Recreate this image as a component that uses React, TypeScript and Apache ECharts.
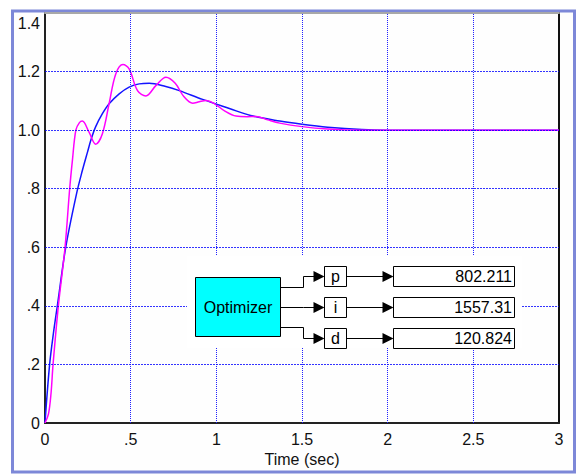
import React, { useEffect, useRef } from "react";
import * as echarts from "echarts";

// ---- data ----
const xTickLabels = ["0", ".5", "1", "1.5", "2", "2.5", "3"];
const yTickLabels = ["0", ".2", ".4", ".6", ".8", "1.0", "1.2", "1.4"];
const xGridValues = [0.5, 1, 1.5, 2, 2.5];
const yGridValues = [0.2, 0.4, 0.6, 0.8, 1.0, 1.2];

const blueTime = [0, 0.027, 0.05, 0.072, 0.121, 0.183, 0.218, 0.248, 0.271, 0.296, 0.335, 0.374, 0.433, 0.491, 0.55, 0.608, 0.705, 0.784, 0.92, 1.076, 1.2, 1.37, 1.5, 1.65, 1.85, 2.0, 2.5, 3.0];
const blueValue = [0, 0.2, 0.31, 0.4, 0.6, 0.78, 0.862, 0.925, 0.972, 1.012, 1.056, 1.09, 1.124, 1.147, 1.158, 1.16, 1.149, 1.135, 1.105, 1.074, 1.05, 1.031, 1.02, 1.01, 1.002, 1.0, 1.0, 1.0];

const magentaTime = [0, 0.02, 0.035, 0.047, 0.078, 0.117, 0.144, 0.16, 0.18, 0.2, 0.218, 0.257, 0.296, 0.335, 0.374, 0.413, 0.455, 0.491, 0.54, 0.589, 0.647, 0.706, 0.76, 0.81, 0.862, 0.9, 0.94, 0.99, 1.05, 1.115, 1.18, 1.232, 1.3, 1.37, 1.5, 1.65, 1.85, 2.0, 2.5, 3.0];
const magentaValue = [0, 0.03, 0.1, 0.2, 0.4, 0.6, 0.8, 0.897, 1.0, 1.025, 1.031, 0.993, 0.952, 0.988, 1.09, 1.192, 1.224, 1.209, 1.135, 1.117, 1.152, 1.181, 1.16, 1.115, 1.092, 1.097, 1.101, 1.09, 1.065, 1.048, 1.046, 1.047, 1.035, 1.024, 1.012, 1.004, 1.0, 1.0, 1.0, 1.0];

const gainNames = ["p", "i", "d"];
const gainValues = ["802.211", "1557.31", "120.824"];

const FONT = "'Liberation Sans', Arial, sans-serif";

function buildDiagram() {
  const els: any[] = [];
  const rowY = [276, 307, 337.5];
  const arrow = (xTip: number, y: number) => ({
    type: "polygon",
    z: 102,
    shape: { points: [[xTip - 11, y - 5.5], [xTip, y], [xTip - 11, y + 5.5]] },
    style: { fill: "#000" },
  });
  els.push({ type: "rect", z: 100, shape: { x: 187, y: 256, width: 335, height: 92 }, style: { fill: "#ffffff" } });
  els.push({ type: "rect", z: 101, shape: { x: 195.5, y: 277.5, width: 85, height: 59 }, style: { fill: "#00ffff", stroke: "#000", lineWidth: 1 } });
  els.push({ type: "text", z: 103, style: { x: 238, y: 307.5, text: "Optimizer", font: `16px ${FONT}`, fill: "#000", align: "center", verticalAlign: "middle" } });
  const srcY = [287.5, 307.5, 327.5];
  rowY.forEach((yc, i) => {
    const y = Math.round(yc) + 0.5;
    els.push({
      type: "polyline", z: 101,
      shape: { points: [[280.5, srcY[i]], [303.5, srcY[i]], [303.5, y], [314, y]] },
      style: { stroke: "#000", lineWidth: 1, fill: null },
    });
    els.push(arrow(324.5, y));
    els.push({ type: "rect", z: 101, shape: { x: 324.5, y: y - 10, width: 22, height: 20 }, style: { fill: "#fff", stroke: "#000", lineWidth: 1 } });
    els.push({ type: "text", z: 103, style: { x: 335.5, y: y, text: gainNames[i], font: `16px ${FONT}`, fill: "#000", align: "center", verticalAlign: "middle" } });
    els.push({ type: "line", z: 101, shape: { x1: 346.5, y1: y, x2: 384, y2: y }, style: { stroke: "#000", lineWidth: 1 } });
    els.push(arrow(393.5, y));
    els.push({ type: "rect", z: 101, shape: { x: 393.5, y: y - 10, width: 121, height: 20 }, style: { fill: "#fff", stroke: "#000", lineWidth: 1 } });
    els.push({ type: "text", z: 103, style: { x: 512, y: y, text: gainValues[i], font: `16px ${FONT}`, fill: "#000", align: "right", verticalAlign: "middle" } });
  });
  return els;
}

export default function App() {
  const ref = useRef<HTMLDivElement>(null);
  useEffect(() => {
    if (!ref.current) return;
    const chart = echarts.init(ref.current, null, { renderer: "svg" });
    const blueData = blueTime.map((t, i) => [t, blueValue[i]]);
    const magentaData = magentaTime.map((t, i) => [t, magentaValue[i]]);
    const labelStyle = { color: "#111", fontSize: 16, fontFamily: FONT };
    chart.setOption({
      animation: false,
      backgroundColor: "#ffffff",
      grid: { left: 45, right: 18, top: 13, bottom: 51, containLabel: false },
      xAxis: [
        {
          type: "value", min: 0, max: 3, interval: 0.5,
          axisLine: { show: true, onZero: false, lineStyle: { color: "#222", width: 2 } },
          axisTick: { show: false },
          axisLabel: { ...labelStyle, margin: 8, formatter: (v: number) => xTickLabels[Math.round(v / 0.5)] ?? "" },
          splitLine: { show: false },
          name: "Time (sec)", nameLocation: "middle", nameGap: 26,
          nameTextStyle: { ...labelStyle },
        },
        {
          type: "value", min: 0, max: 3, position: "top",
          axisLine: { show: true, onZero: false, lineStyle: { color: "#a8a8a8", width: 2 } },
          axisTick: { show: false }, axisLabel: { show: false }, splitLine: { show: false },
        },
      ],
      yAxis: [
        {
          type: "value", min: 0, max: 1.4, interval: 0.2,
          axisLine: { show: true, onZero: false, lineStyle: { color: "#222", width: 2 } },
          axisTick: { show: false },
          axisLabel: {
            ...labelStyle, margin: 5,
            formatter: (v: number) => {
              const i = Math.round(v / 0.2);
              const s = yTickLabels[i] ?? "";
              return i === yTickLabels.length - 1 ? `{top|${s}}` : s;
            },
            rich: { top: { ...labelStyle, padding: [21, 0, 0, 0] } },
          },
          splitLine: { show: false },
        },
        {
          type: "value", min: 0, max: 1.4, position: "right",
          axisLine: { show: true, onZero: false, lineStyle: { color: "#111", width: 2 } },
          axisTick: { show: false }, axisLabel: { show: false }, splitLine: { show: false },
        },
      ],
      series: [
        {
          type: "line", xAxisIndex: 0, yAxisIndex: 0, data: [], z: 1,
          markLine: {
            silent: true, symbol: ["none", "none"], label: { show: false },
            lineStyle: { color: "#2222ff", type: [1, 1], width: 1 },
            emphasis: { disabled: true },
            data: [
              ...xGridValues.map((v) => ({ xAxis: v })),
              ...yGridValues.map((v) => ({
                yAxis: v,
                lineStyle: { color: "#0000ff", type: [2, 1], width: 1, opacity: 0.8 },
              })),
            ],
          },
        },
        {
          type: "line", xAxisIndex: 0, yAxisIndex: 0, data: blueData, smooth: 0.35,
          showSymbol: false, lineStyle: { color: "#1414ff", width: 1.5 }, z: 3,
        },
        {
          type: "line", xAxisIndex: 0, yAxisIndex: 0, data: magentaData, smooth: 0.35,
          showSymbol: false, lineStyle: { color: "#ff00ff", width: 1.5 }, z: 4,
        },
      ],
      graphic: [
        {
          type: "rect", z: -10, silent: true,
          shape: { x: 12.5, y: 11, width: 562, height: 461 },
          style: { fill: "#fefefe", stroke: "#7d88d8", lineWidth: 3 },
        },
        ...buildDiagram(),
      ],
    });
    return () => chart.dispose();
  }, []);
  return <div ref={ref} style={{ position: "absolute", left: 0, top: 0, width: 577, height: 474 }} />;
}
